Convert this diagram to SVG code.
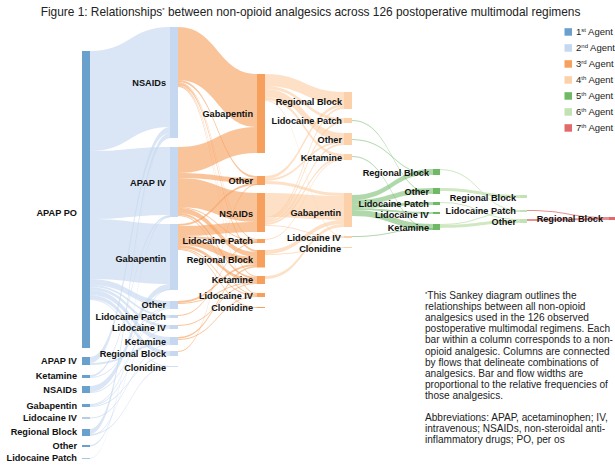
<svg xmlns="http://www.w3.org/2000/svg" width="615" height="467" viewBox="0 0 615 467">
<style>
text{font-family:"Liberation Sans",Arial,sans-serif}
.lb{font-size:9.2px;font-weight:bold;fill:#111;text-anchor:end}
.t{font-size:11.9px;fill:#222}
.fn{font-size:10.1px;fill:#222}
.lg{font-size:9.5px;fill:#222}
.sup{font-size:6px}
.l1{fill:#c6d8ef;opacity:.65}
.l2{fill:#f7a05e;opacity:.62}
.l3{fill:#fcd0a8;opacity:.65}
.l4{fill:#6fb866;opacity:.55}
.l5{fill:#c3e2b3;opacity:.8}
.l6{fill:#e36a6a;opacity:.75}
.c1{fill:#6aa0cc}.c2{fill:#c6d8ef}.c3{fill:#f7a05e}.c4{fill:#fcd0a8}.c5{fill:#6fb866}.c6{fill:#c3e2b3}.c7{fill:#e36a6a}
</style>
<rect width="615" height="467" fill="#fff"/>
<text class="t" x="310.5" y="16" text-anchor="middle">Figure 1: Relationships<tspan class="sup" dy="-4">*</tspan><tspan dy="4"> between non-opioid analgesics across 126 postoperative multimodal regimens</tspan></text>

<g id="connectors">
<g id="flows-1-2">
<path class="l1" d="M90,51C130,51 130,27 170,27L170,127C130,127 130,151 90,151Z"/>
<path class="l1" d="M90,151C130,151 130,147 170,147L170,215C130,215 130,219 90,219Z"/>
<path class="l1" d="M90,219C130,219 130,224 170,224L170,284C130,284 130,279 90,279Z"/>
<path class="l1" d="M90,279C130,279 130,301 170,301L170,307C130,307 130,285 90,285Z"/>
<path class="l1" d="M90,285C130,285 130,315 170,315L170,317C130,317 130,287 90,287Z"/>
<path class="l1" d="M90,287C130,287 130,325 170,325L170,328C130,328 130,290 90,290Z"/>
<path class="l1" d="M90,290C130,290 130,337 170,337L170,342C130,342 130,295 90,295Z"/>
<path class="l1" d="M90,295C130,295 130,351 170,351L170,355C130,355 130,299 90,299Z"/>
<path class="l1" d="M90,299C130,299 130,366 170,366L170,367C130,367 130,300 90,300Z"/>
<path class="l1" d="M90,357C130,357 130,127 170,127L170,133C130,133 130,363 90,363Z"/>
<path class="l1" d="M90,363C130,363 130,342 170,342L170,344C130,344 130,365 90,365Z"/>
<path class="l1" d="M90,375C130,375 130,215 170,215L170,217C130,217 130,377 90,377Z"/>
<path class="l1" d="M90,377C130,377 130,307 170,307L170,308C130,308 130,378 90,378Z"/>
<path class="l1" d="M90,386C130,386 130,284 170,284L170,290C130,290 130,392 90,392Z"/>
<path class="l1" d="M90,392C130,392 130,317 170,317L170,318C130,318 130,393 90,393Z"/>
<path class="l1" d="M90,404C130,404 130,308 170,308L170,309C130,309 130,405 90,405Z"/>
<path class="l1" d="M90,405C130,405 130,328 170,328L170,329C130,329 130,406 90,406Z"/>
<path class="l1" d="M90,406C130,406 130,355 170,355L170,356C130,356 130,407 90,407Z"/>
<path class="l1" d="M90,417.5C130,417.5 130,344 170,344L170,345C130,345 130,418.5 90,418.5Z"/>
<path class="l1" d="M90,429C130,429 130,133 170,133L170,138C130,138 130,434 90,434Z"/>
<path class="l1" d="M90,434C130,434 130,366 170,366L170,367C130,367 130,435 90,435Z"/>
<path class="l1" d="M90,435C130,435 130,289 170,289L170,290C130,290 130,436 90,436Z"/>
<path class="l1" d="M90,445C130,445 130,216 170,216L170,217.5C130,217.5 130,446.5 90,446.5Z"/>
<path class="l1" d="M90,458C130,458 130,137.4 170,137.4L170,138C130,138 130,458.6 90,458.6Z"/>
</g>
<g id="flows-2-3">
<path class="l2" d="M178,27C217.5,27 217.5,74 257,74L257,127C217.5,127 217.5,80 178,80Z"/>
<path class="l2" d="M178,80C217.5,80 217.5,176 257,176L257,178C217.5,178 217.5,82 178,82Z"/>
<path class="l2" d="M178,82C217.5,82 217.5,239 257,239L257,240C217.5,240 217.5,83 178,83Z"/>
<path class="l2" d="M178,83C217.5,83 217.5,250 257,250L257,252C217.5,252 217.5,85 178,85Z"/>
<path class="l2" d="M178,85C217.5,85 217.5,276 257,276L257,277C217.5,277 217.5,86 178,86Z"/>
<path class="l2" d="M178,86C217.5,86 217.5,293 257,293L257,294C217.5,294 217.5,87 178,87Z"/>
<path class="l2" d="M178,147C217.5,147 217.5,127 257,127L257,153C217.5,153 217.5,173 178,173Z"/>
<path class="l2" d="M178,173C217.5,173 217.5,178 257,178L257,183C217.5,183 217.5,178 178,178Z"/>
<path class="l2" d="M178,178C217.5,178 217.5,193 257,193L257,222C217.5,222 217.5,207 178,207Z"/>
<path class="l2" d="M178,207C217.5,207 217.5,240 257,240L257,241C217.5,241 217.5,208 178,208Z"/>
<path class="l2" d="M178,208C217.5,208 217.5,252 257,252L257,257C217.5,257 217.5,213 178,213Z"/>
<path class="l2" d="M178,213C217.5,213 217.5,277 257,277L257,279C217.5,279 217.5,215 178,215Z"/>
<path class="l2" d="M178,215C217.5,215 217.5,294 257,294L257,295C217.5,295 217.5,216 178,216Z"/>
<path class="l2" d="M178,224C217.5,224 217.5,183 257,183L257,185C217.5,185 217.5,226 178,226Z"/>
<path class="l2" d="M178,226C217.5,226 217.5,222 257,222L257,232C217.5,232 217.5,236 178,236Z"/>
<path class="l2" d="M178,236C217.5,236 217.5,241 257,241L257,243C217.5,243 217.5,238 178,238Z"/>
<path class="l2" d="M178,238C217.5,238 217.5,257 257,257L257,264C217.5,264 217.5,245 178,245Z"/>
<path class="l2" d="M178,245C217.5,245 217.5,279 257,279L257,282C217.5,282 217.5,248 178,248Z"/>
<path class="l2" d="M178,248C217.5,248 217.5,295 257,295L257,296C217.5,296 217.5,249 178,249Z"/>
<path class="l2" d="M178,249C217.5,249 217.5,307 257,307L257,308C217.5,308 217.5,250 178,250Z"/>
<path class="l2" d="M178,301C217.5,301 217.5,264 257,264L257,266C217.5,266 217.5,303 178,303Z"/>
<path class="l2" d="M178,303C217.5,303 217.5,282 257,282L257,283C217.5,283 217.5,304 178,304Z"/>
<path class="l2" d="M178,337C217.5,337 217.5,266 257,266L257,267.5C217.5,267.5 217.5,338.5 178,338.5Z"/>
<path class="l2" d="M178,339C217.5,339 217.5,296 257,296L257,297C217.5,297 217.5,340 178,340Z"/>
<path class="l2" d="M178,325C217.5,325 217.5,283 257,283L257,284C217.5,284 217.5,326 178,326Z"/>
<path class="l2" d="M178,351C217.5,351 217.5,184 257,184L257,185C217.5,185 217.5,352 178,352Z"/>
<path class="l2" d="M178,315C217.5,315 217.5,242 257,242L257,243C217.5,243 217.5,316 178,316Z"/>
</g>
<g id="flows-3-4">
<path class="l3" d="M265,74C304.5,74 304.5,92 344,92L344,104C304.5,104 304.5,86 265,86Z"/>
<path class="l3" d="M265,86C304.5,86 304.5,118 344,118L344,121C304.5,121 304.5,89 265,89Z"/>
<path class="l3" d="M265,89C304.5,89 304.5,133 344,133L344,141C304.5,141 304.5,97 265,97Z"/>
<path class="l3" d="M265,97C304.5,97 304.5,154 344,154L344,157C304.5,157 304.5,100 265,100Z"/>
<path class="l3" d="M265,100C304.5,100 304.5,236 344,236L344,237C304.5,237 304.5,101 265,101Z"/>
<path class="l3" d="M265,176C304.5,176 304.5,104 344,104L344,107C304.5,107 304.5,179 265,179Z"/>
<path class="l3" d="M265,179C304.5,179 304.5,141 344,141L344,143C304.5,143 304.5,181 265,181Z"/>
<path class="l3" d="M265,181C304.5,181 304.5,193 344,193L344,196C304.5,196 304.5,184 265,184Z"/>
<path class="l3" d="M265,193C304.5,193 304.5,196 344,196L344,220C304.5,220 304.5,217 265,217Z"/>
<path class="l3" d="M265,217C304.5,217 304.5,107 344,107L344,109C304.5,109 304.5,219 265,219Z"/>
<path class="l3" d="M265,219C304.5,219 304.5,121 344,121L344,123C304.5,123 304.5,221 265,221Z"/>
<path class="l3" d="M265,221C304.5,221 304.5,143 344,143L344,145C304.5,145 304.5,223 265,223Z"/>
<path class="l3" d="M265,223C304.5,223 304.5,157 344,157L344,159C304.5,159 304.5,225 265,225Z"/>
<path class="l3" d="M265,225C304.5,225 304.5,237 344,237L344,238C304.5,238 304.5,226 265,226Z"/>
<path class="l3" d="M265,239C304.5,239 304.5,159 344,159L344,160C304.5,160 304.5,240 265,240Z"/>
<path class="l3" d="M265,250C304.5,250 304.5,220 344,220L344,224C304.5,224 304.5,254 265,254Z"/>
<path class="l3" d="M265,254C304.5,254 304.5,247 344,247L344,248C304.5,248 304.5,255 265,255Z"/>
<path class="l3" d="M265,276C304.5,276 304.5,224 344,224L344,227C304.5,227 304.5,279 265,279Z"/>
</g>
<g id="flows-4-5">
<path class="l4" d="M352,195C392.5,195 392.5,169 433,169L433,174C392.5,174 392.5,200 352,200Z"/>
<path class="l4" d="M352,200C392.5,200 392.5,188 433,188L433,193C392.5,193 392.5,205 352,205Z"/>
<path class="l4" d="M352,205C392.5,205 392.5,202 433,202L433,205C392.5,205 392.5,208 352,208Z"/>
<path class="l4" d="M352,208C392.5,208 392.5,212 433,212L433,214C392.5,214 392.5,210 352,210Z"/>
<path class="l4" d="M352,210C392.5,210 392.5,224 433,224L433,230C392.5,230 392.5,216 352,216Z"/>
<path class="l4" d="M352,120C392.5,120 392.5,193 433,193L433,194C392.5,194 392.5,121 352,121Z"/>
<path class="l4" d="M352,139C392.5,139 392.5,174 433,174L433,175C392.5,175 392.5,140 352,140Z"/>
<path class="l4" d="M352,156C392.5,156 392.5,229 433,229L433,230C392.5,230 392.5,157 352,157Z"/>
<path class="l4" d="M352,236C392.5,236 392.5,228 433,228L433,229C392.5,229 392.5,237 352,237Z"/>
</g>
<g id="flows-5-6">
<path class="l5" d="M440,188C480,188 480,195 520,195L520,198C480,198 480,191 440,191Z"/>
<path class="l5" d="M440,169C480,169 480,210 520,210L520,211C480,211 480,170 440,170Z"/>
<path class="l5" d="M440,224C480,224 480,211 520,211L520,212C480,212 480,225 440,225Z"/>
<path class="l5" d="M440,202C480,202 480,219 520,219L520,220C480,220 480,203 440,203Z"/>
<path class="l5" d="M440,225C480,225 480,220 520,220L520,223C480,223 480,228 440,228Z"/>
</g>
<g id="flows-6-7">
<path class="l6" d="M527,210C568,210 568,217 609,217L609,218C568,218 568,211 527,211Z"/>
<path class="l6" d="M527,219C568,219 568,218 609,218L609,220C568,220 568,221 527,221Z"/>
</g>
</g>

<g id="col1">
<g id="n1-apap-po"><rect class="c1" x="82" y="51" width="8" height="297"/><text class="lb" x="77" y="215.5">APAP PO</text></g>
<g id="n1-apap-iv"><rect class="c1" x="82" y="357" width="8" height="8"/><text class="lb" x="77" y="364.3">APAP IV</text></g>
<g id="n1-ketamine"><rect class="c1" x="82" y="375" width="8" height="3"/><text class="lb" x="77" y="379.3">Ketamine</text></g>
<g id="n1-nsaids"><rect class="c1" x="82" y="386" width="8" height="7"/><text class="lb" x="77" y="393">NSAIDs</text></g>
<g id="n1-gabapentin"><rect class="c1" x="82" y="404" width="8" height="3"/><text class="lb" x="77" y="409.3">Gabapentin</text></g>
<g id="n1-lido-iv"><rect class="c1" x="82" y="417.5" width="8" height="1"/><text class="lb" x="77" y="421.3">Lidocaine IV</text></g>
<g id="n1-regional"><rect class="c1" x="82" y="429" width="8" height="7"/><text class="lb" x="77" y="435.3">Regional Block</text></g>
<g id="n1-other"><rect class="c1" x="82" y="445" width="8" height="2"/><text class="lb" x="77" y="449.3">Other</text></g>
<g id="n1-lido-patch"><rect class="c1" x="82" y="458" width="8" height="0.6"/><text class="lb" x="77" y="461.1">Lidocaine Patch</text></g>
</g>

<g id="col2">
<g id="n2-nsaids"><rect class="c2" x="170" y="27" width="8" height="111"/><text class="lb" x="166" y="86.3">NSAIDs</text></g>
<g id="n2-apap-iv"><rect class="c2" x="170" y="147" width="8" height="70"/><text class="lb" x="166" y="186.3">APAP IV</text></g>
<g id="n2-gabapentin"><rect class="c2" x="170" y="224" width="8" height="66"/><text class="lb" x="166" y="262.3">Gabapentin</text></g>
<g id="n2-other"><rect class="c2" x="170" y="301" width="8" height="8"/><text class="lb" x="166" y="308.3">Other</text></g>
<g id="n2-lido-patch"><rect class="c2" x="170" y="315" width="8" height="3"/><text class="lb" x="166" y="320">Lidocaine Patch</text></g>
<g id="n2-lido-iv"><rect class="c2" x="170" y="325" width="8" height="4"/><text class="lb" x="166" y="331.3">Lidocaine IV</text></g>
<g id="n2-ketamine"><rect class="c2" x="170" y="337" width="8" height="8"/><text class="lb" x="166" y="345.3">Ketamine</text></g>
<g id="n2-regional"><rect class="c2" x="170" y="351" width="8" height="5"/><text class="lb" x="166" y="357.3">Regional Block</text></g>
<g id="n2-clonidine"><rect class="c2" x="170" y="366" width="8" height="0.8"/><text class="lb" x="166" y="371">Clonidine</text></g>
</g>

<g id="col3">
<g id="n3-gabapentin"><rect class="c3" x="257" y="74" width="8" height="79"/><text class="lb" x="253" y="117.3">Gabapentin</text></g>
<g id="n3-other"><rect class="c3" x="257" y="176" width="8" height="9"/><text class="lb" x="253" y="184">Other</text></g>
<g id="n3-nsaids"><rect class="c3" x="257" y="193" width="8" height="39"/><text class="lb" x="253" y="217.3">NSAIDs</text></g>
<g id="n3-lido-patch"><rect class="c3" x="257" y="239" width="8" height="4"/><text class="lb" x="253" y="244.3">Lidocaine Patch</text></g>
<g id="n3-regional"><rect class="c3" x="257" y="250" width="8" height="17.5"/><text class="lb" x="253" y="263.3">Regional Block</text></g>
<g id="n3-ketamine"><rect class="c3" x="257" y="276" width="8" height="8"/><text class="lb" x="253" y="283.3">Ketamine</text></g>
<g id="n3-lido-iv"><rect class="c3" x="257" y="293" width="8" height="4"/><text class="lb" x="253" y="299">Lidocaine IV</text></g>
<g id="n3-clonidine"><rect class="c3" x="257" y="307" width="8" height="1"/><text class="lb" x="253" y="310.6">Clonidine</text></g>
</g>

<g id="col4">
<g id="n4-regional"><rect class="c4" x="344" y="92" width="8" height="17"/><text class="lb" x="342" y="104.6">Regional Block</text></g>
<g id="n4-lido-patch"><rect class="c4" x="344" y="118" width="8" height="5"/><text class="lb" x="342" y="124.3">Lidocaine Patch</text></g>
<g id="n4-other"><rect class="c4" x="344" y="133" width="8" height="12"/><text class="lb" x="342" y="142.6">Other</text></g>
<g id="n4-ketamine"><rect class="c4" x="344" y="154" width="8" height="6"/><text class="lb" x="342" y="161">Ketamine</text></g>
<g id="n4-gabapentin"><rect class="c4" x="344" y="193" width="8" height="34"/><text class="lb" x="341" y="216">Gabapentin</text></g>
<g id="n4-lido-iv"><rect class="c4" x="344" y="236" width="8" height="2"/><text class="lb" x="341" y="240.6">Lidocaine IV</text></g>
<g id="n4-clonidine"><rect class="c4" x="344" y="247" width="8" height="1"/><text class="lb" x="341" y="252.3">Clonidine</text></g>
</g>

<g id="col5">
<g id="n5-regional"><rect class="c5" x="433" y="169" width="7" height="6"/><text class="lb" x="429" y="175.6">Regional Block</text></g>
<g id="n5-other"><rect class="c5" x="433" y="188" width="7" height="6"/><text class="lb" x="429" y="195">Other</text></g>
<g id="n5-lido-patch"><rect class="c5" x="433" y="202" width="7" height="3"/><text class="lb" x="429" y="206.6">Lidocaine Patch</text></g>
<g id="n5-lido-iv"><rect class="c5" x="433" y="212" width="7" height="2"/><text class="lb" x="429" y="217.6">Lidocaine IV</text></g>
<g id="n5-ketamine"><rect class="c5" x="433" y="224" width="7" height="6"/><text class="lb" x="429" y="231">Ketamine</text></g>
</g>

<g id="col6">
<g id="n6-regional"><rect class="c6" x="520" y="195" width="7" height="3"/><text class="lb" x="516" y="200.6">Regional Block</text></g>
<g id="n6-lido-patch"><rect class="c6" x="520" y="210" width="7" height="2"/><text class="lb" x="516" y="214.3">Lidocaine Patch</text></g>
<g id="n6-other"><rect class="c6" x="520" y="219" width="7" height="4"/><text class="lb" x="516" y="225">Other</text></g>
</g>

<g id="col7">
<g id="n7-regional"><rect class="c7" x="609" y="217" width="8" height="3"/><text class="lb" x="603" y="222.3">Regional Block</text></g>
</g>

<g id="legend">
<rect class="c1" x="564.5" y="28.2" width="7.5" height="7.5"/><text class="lg" x="576" y="35.3">1<tspan class="sup" dy="-3.5">st</tspan><tspan dy="3.5"> Agent</tspan></text>
<rect class="c2" x="564.5" y="44.2" width="7.5" height="7.5"/><text class="lg" x="576" y="51.3">2<tspan class="sup" dy="-3.5">nd</tspan><tspan dy="3.5"> Agent</tspan></text>
<rect class="c3" x="564.5" y="60.2" width="7.5" height="7.5"/><text class="lg" x="576" y="67.3">3<tspan class="sup" dy="-3.5">rd</tspan><tspan dy="3.5"> Agent</tspan></text>
<rect class="c4" x="564.5" y="76.2" width="7.5" height="7.5"/><text class="lg" x="576" y="83.3">4<tspan class="sup" dy="-3.5">th</tspan><tspan dy="3.5"> Agent</tspan></text>
<rect class="c5" x="564.5" y="92.2" width="7.5" height="7.5"/><text class="lg" x="576" y="99.3">5<tspan class="sup" dy="-3.5">th</tspan><tspan dy="3.5"> Agent</tspan></text>
<rect class="c6" x="564.5" y="108.2" width="7.5" height="7.5"/><text class="lg" x="576" y="115.3">6<tspan class="sup" dy="-3.5">th</tspan><tspan dy="3.5"> Agent</tspan></text>
<rect class="c7" x="564.5" y="124.2" width="7.5" height="7.5"/><text class="lg" x="576" y="131.3">7<tspan class="sup" dy="-3.5">th</tspan><tspan dy="3.5"> Agent</tspan></text>
</g>

<g id="footnote">
<text class="fn" x="425" y="299"><tspan class="sup" dy="-3.5">*</tspan><tspan dy="3.5">This Sankey diagram outlines the</tspan></text>
<text class="fn" x="425" y="310.1">relationships between all non-opioid</text>
<text class="fn" x="425" y="321.2">analgesics used in the 126 observed</text>
<text class="fn" x="425" y="332.3">postoperative multimodal regimens. Each</text>
<text class="fn" x="425" y="343.4">bar within a column corresponds to a non-</text>
<text class="fn" x="425" y="354.5">opioid analgesic. Columns are connected</text>
<text class="fn" x="425" y="365.6">by flows that delineate combinations of</text>
<text class="fn" x="425" y="376.7">analgesics. Bar and flow widths are</text>
<text class="fn" x="425" y="387.8">proportional to the relative frequencies of</text>
<text class="fn" x="425" y="398.9">those analgesics.</text>
<text class="fn" x="425" y="421">Abbreviations: APAP, acetaminophen; IV,</text>
<text class="fn" x="425" y="432.1">intravenous; NSAIDs, non-steroidal anti-</text>
<text class="fn" x="425" y="443.2">inflammatory drugs; PO, per os</text>
</g>
</svg>
